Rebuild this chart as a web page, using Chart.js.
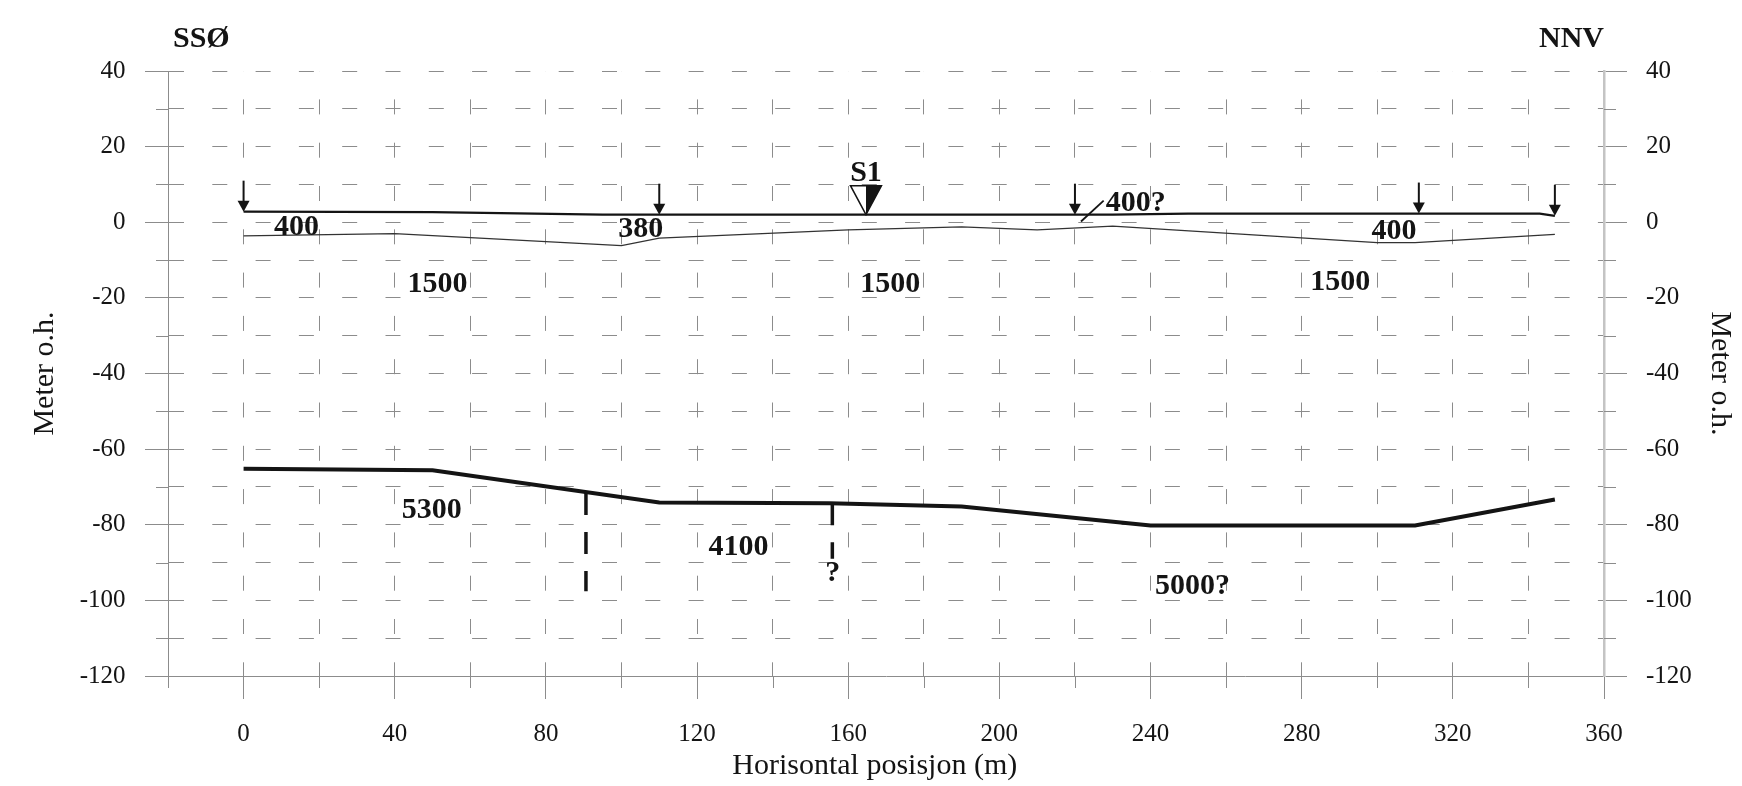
<!DOCTYPE html>
<html>
<head>
<meta charset="utf-8">
<title>Seismisk profil</title>
<script src="https://cdn.jsdelivr.net/npm/chart.js@4.4.1/dist/chart.umd.min.js"></script>
<style>
  html, body { margin: 0; padding: 0; background: #fff; }
  #wrap { width: 1742px; height: 786px; }
</style>
</head>
<body>
<div id="wrap"><canvas id="profile" width="1742" height="786"></canvas></div>
<script>
// ── Data (horisontal posisjon i m, høyde i m o.h.) ─────────
const surfaceX = [0, 50, 95, 230, 250, 343, 347];
const surfaceY = [2.8, 2.7, 2.0, 2.0, 2.3, 2.3, 1.7];

const layer1X = [0, 40, 100, 110, 160, 190, 210, 230, 300, 310, 347];
const layer1Y = [-3.6, -3.0, -6.2, -4.2, -2.0, -1.2, -2.0, -1.0, -5.4, -5.4, -3.2];

const bedrockX = [0, 50, 110, 155, 190, 240, 310, 347];
const bedrockY = [-65.2, -65.6, -74.1, -74.3, -75.2, -80.2, -80.2, -73.3];

const faultX = [90.6, 155.8];
const faultTop = [-71.6, -74.3];
const faultBottom = [-97.6, -89.0];

const leaderX = [221.6, 227.6];
const leaderY = [0.2, 5.7];

const arrowX = [0, 110, 220, 311, 347];
const shotX = 164.7;
const shotName = 'S1';
const shotLabelY = 13.6;

const layerLabels = ['400', '380', '400?', '400', '1500', '1500', '1500', '5300', '4100', '?', '5000?'];
const layerLabelX = [14.0, 105.1, 236.1, 304.4, 51.3, 171.1, 290.2, 49.8, 131.0, 155.9, 251.1];
const layerLabelY = [-0.7, -1.2, 5.6, -1.8, -15.9, -15.7, -15.3, -75.5, -85.4, -92.2, -95.7];

const sideLabels = ['SSØ', 'NNV'];
const xTitle = 'Horisontal posisjon (m)';
const yTitle = 'Meter o.h.';

// ── Style ──────────────────────────────────────────────────
const SERIF = "'Liberation Serif', 'Times New Roman', serif";
const INK = '#141414';
const GRID = '#8c8c8c';
const MINOR_LEN = 12;
const MAJOR_LEN = 23;
const ARROW_LEN = 31;

const toPoints = (xs, ys) => xs.map((x, i) => ({ x, y: ys[i] }));

const lerp = (xs, ys, v) => {
  for (let i = 1; i < xs.length; i++) {
    if (v <= xs[i]) {
      const t = (v - xs[i - 1]) / (xs[i] - xs[i - 1]);
      return ys[i - 1] + t * (ys[i] - ys[i - 1]);
    }
  }
  return ys[ys.length - 1];
};

const majorColor = (step) => (ctx) =>
  ctx.tick && Math.abs(ctx.tick.value % step) < 1e-6 ? GRID : 'rgba(0,0,0,0)';

// ── Plugins ────────────────────────────────────────────────
const minorTicks = {
  id: 'minorTicks',
  afterDraw(chart) {
    const { ctx, chartArea: a, scales: { x, y, y2 } } = chart;
    ctx.save();
    ctx.strokeStyle = GRID;
    ctx.lineWidth = 1;
    ctx.beginPath();
    x.ticks.forEach(t => {
      if (t.value % 40 === 0) return;
      const px = Math.round(x.getPixelForValue(t.value)) + 0.5;
      ctx.moveTo(px, a.bottom);
      ctx.lineTo(px, a.bottom + MINOR_LEN);
    });
    y.ticks.forEach(t => {
      if (t.value % 20 === 0) return;
      const py = Math.round(y.getPixelForValue(t.value)) + 0.5;
      ctx.moveTo(a.left - MINOR_LEN, py);
      ctx.lineTo(a.left, py);
    });
    y2.ticks.forEach(t => {
      if (t.value % 20 === 0) return;
      const py = Math.round(y2.getPixelForValue(t.value)) + 0.5;
      ctx.moveTo(a.right, py);
      ctx.lineTo(a.right + MINOR_LEN, py);
    });
    ctx.stroke();
    ctx.restore();
  },
};

const overlay = {
  id: 'overlay',
  afterDatasetsDraw(chart) {
    const { ctx, chartArea: a, scales: { x, y } } = chart;
    ctx.save();
    ctx.fillStyle = INK;
    ctx.strokeStyle = INK;

    // piler ned mot overflaten
    arrowX.forEach(v => {
      const px = x.getPixelForValue(v);
      const tip = y.getPixelForValue(lerp(surfaceX, surfaceY, v));
      ctx.lineWidth = 2;
      ctx.beginPath();
      ctx.moveTo(px, tip - ARROW_LEN);
      ctx.lineTo(px, tip - 9);
      ctx.stroke();
      ctx.beginPath();
      ctx.moveTo(px - 6, tip - 11);
      ctx.lineTo(px + 6, tip - 11);
      ctx.lineTo(px, tip);
      ctx.closePath();
      ctx.fill();
    });

    // skuddpunkt S1
    const sx = x.getPixelForValue(shotX);
    const sy = y.getPixelForValue(lerp(surfaceX, surfaceY, shotX));
    const top = sy - 29, half = 15.5;
    ctx.fillStyle = '#fff';
    ctx.beginPath();
    ctx.moveTo(sx - half, top); ctx.lineTo(sx, top); ctx.lineTo(sx, sy); ctx.closePath();
    ctx.fill();
    ctx.fillStyle = INK;
    ctx.beginPath();
    ctx.moveTo(sx, top); ctx.lineTo(sx + half, top); ctx.lineTo(sx, sy); ctx.closePath();
    ctx.fill();
    ctx.lineWidth = 1.5;
    ctx.beginPath();
    ctx.moveTo(sx - half, top); ctx.lineTo(sx + half, top); ctx.lineTo(sx, sy); ctx.closePath();
    ctx.stroke();

    // tekster
    ctx.font = `bold 30px ${SERIF}`;
    ctx.textAlign = 'center';
    ctx.textBaseline = 'alphabetic';
    ctx.fillText(shotName, sx, y.getPixelForValue(shotLabelY) + 10);
    layerLabels.forEach((s, i) => {
      ctx.fillText(s, x.getPixelForValue(layerLabelX[i]), y.getPixelForValue(layerLabelY[i]) + 10);
    });

    ctx.textAlign = 'left';
    ctx.fillText(sideLabels[0], a.left + 5, 47);
    ctx.textAlign = 'right';
    ctx.fillText(sideLabels[1], a.right, 47);
    ctx.restore();
  },
};

// ── Chart ──────────────────────────────────────────────────
Chart.defaults.font.family = SERIF;

const tickFont = { family: SERIF, size: 25 };
const titleFont = { family: SERIF, size: 30 };

const lineSet = (data, width, extra = {}) => ({
  data,
  showLine: true,
  borderColor: INK,
  borderWidth: width,
  pointRadius: 0,
  fill: false,
  tension: 0,
  ...extra,
});

new Chart(document.getElementById('profile'), {
  type: 'scatter',
  data: {
    datasets: [
      lineSet(toPoints(layer1X, layer1Y), 1.2, { borderColor: '#333' }),
      lineSet(toPoints(surfaceX, surfaceY), 2.2),
      lineSet(toPoints(bedrockX, bedrockY), 4),
      lineSet(toPoints(leaderX, leaderY), 1.8),
      ...faultX.map((fx, i) =>
        lineSet([{ x: fx, y: faultTop[i] }, { x: fx, y: faultBottom[i] }], 3.5, { borderDash: [22, 17], borderCapStyle: 'butt' })),
    ],
  },
  options: {
    responsive: false,
    animation: false,
    events: [],
    layout: { padding: { top: 71, left: 0, right: 0, bottom: 0 } },
    plugins: { legend: { display: false }, tooltip: { enabled: false } },
    scales: {
      x: {
        type: 'linear',
        min: -20, max: 360,
        afterFit: s => { s.height = 110; },
        ticks: {
          stepSize: 20, autoSkip: false, maxRotation: 0, padding: 20,
          color: INK, font: tickFont,
          callback: v => (v % 40 === 0 ? String(v) : ''),
        },
        grid: { color: GRID, lineWidth: 1, tickLength: MAJOR_LEN, tickColor: majorColor(40) },
        border: { color: GRID, width: 1, dash: [15, 28.3], dashOffset: 14.9 },
        title: {
          display: true, text: xTitle + '\u00a0\u00a0\u00a0', color: INK, font: titleFont,
          padding: { top: 0, bottom: 2 },
        },
      },
      y: {
        type: 'linear', position: 'left',
        min: -120, max: 40,
        afterFit: s => { s.width = 168; },
        ticks: {
          stepSize: 10, autoSkip: false, padding: 19.5,
          color: INK, font: tickFont,
          callback: v => (v % 20 === 0 ? String(v) : ''),
        },
        grid: { color: GRID, lineWidth: 1, tickLength: MAJOR_LEN, tickColor: majorColor(20) },
        border: { color: GRID, width: 1, dash: [15, 28.3], dashOffset: 0 },
        title: { display: true, text: yTitle, color: INK, font: titleFont, padding: { top: 27, bottom: 0 } },
      },
      y2: {
        type: 'linear', position: 'right',
        min: -120, max: 40,
        afterFit: s => { s.width = 138; },
        ticks: {
          stepSize: 10, autoSkip: false, padding: 19,
          color: INK, font: tickFont,
          callback: v => (v % 20 === 0 ? String(v) : ''),
        },
        grid: { drawOnChartArea: false, color: GRID, lineWidth: 1, tickLength: MAJOR_LEN, tickColor: majorColor(20) },
        border: { color: '#c4c4c4', width: 2.5 },
        title: { display: true, text: yTitle, color: INK, font: titleFont, padding: { top: 4, bottom: 0 } },
      },
    },
  },
  plugins: [minorTicks, overlay],
});
</script>
</body>
</html>
